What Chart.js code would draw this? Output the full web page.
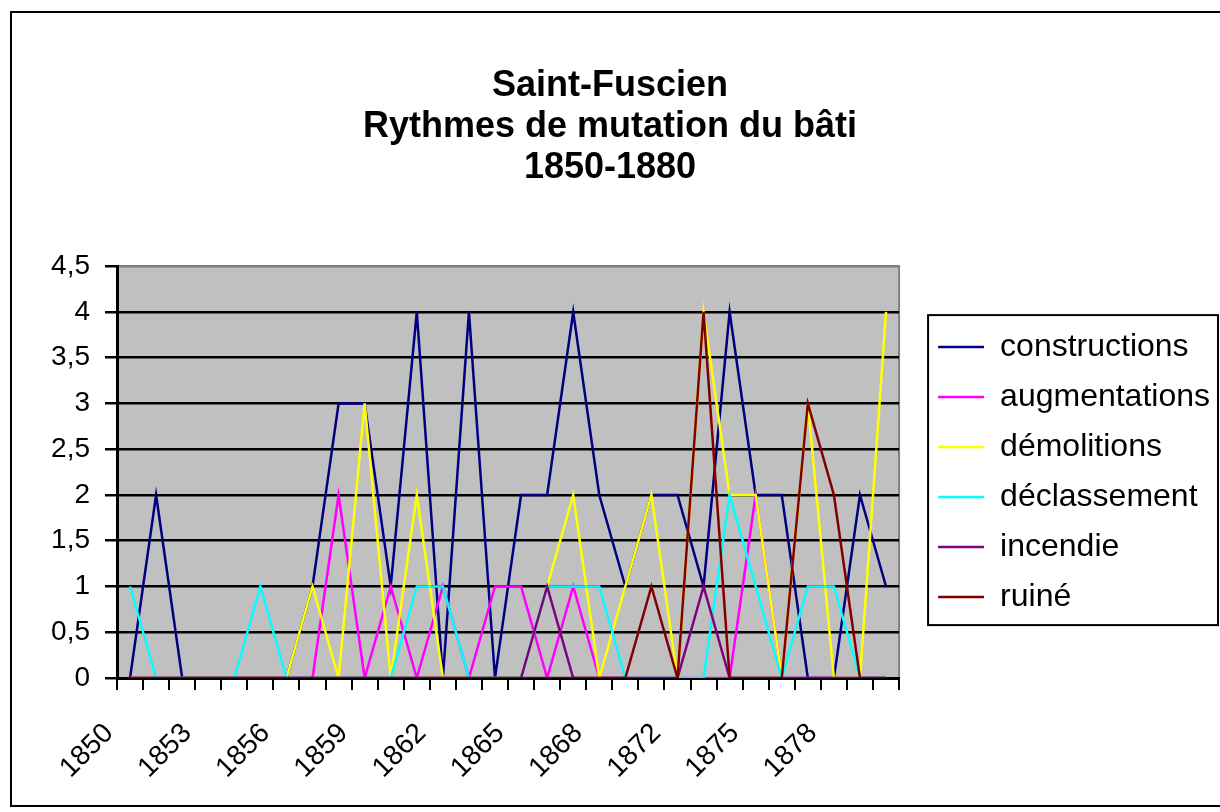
<!DOCTYPE html>
<html>
<head>
<meta charset="utf-8">
<script src="https://cdn.jsdelivr.net/npm/chart.js@4.4.1/dist/chart.umd.min.js"></script>
<style>
  body { margin: 0; background: #fff; }
  #wrap { width: 1220px; height: 812px; position: relative; }
</style>
</head>
<body>
<div id="wrap"><canvas id="chart_line"></canvas></div>
<script>
// 1870 is missing from the original table
let years = [1850, 1851, 1852, 1853, 1854, 1855, 1856, 1857, 1858, 1859,
             1860, 1861, 1862, 1863, 1864, 1865, 1866, 1867, 1868, 1869,
             1871, 1872, 1873, 1874, 1875, 1876, 1877, 1878, 1879, 1880];
let tickYears = [1850, 1853, 1856, 1859, 1862, 1865, 1868, 1872, 1875, 1878];

let constructions = [0, 2, 0, 0, 0, 0, 0, 1, 3, 3, 1, 4, 0, 4, 0, 2, 2, 4, 2, 1, 2, 2, 1, 4, 2, 2, 0, 0, 2, 1];
let augmentations = [0, 0, 0, 0, 0, 0, 0, 0, 2, 0, 1, 0, 1, 0, 1, 1, 0, 1, 0, 0, 0, 0, 0, 0, 2, 0, 0, 0, 0, 0];
let demolitions   = [0, 0, 0, 0, 0, 0, 0, 1, 0, 3, 0, 2, 0, 0, 0, 0, 1, 2, 0, 1, 2, 0, 4, 2, 2, 0, 3, 0, 0, 4];
let declassement  = [1, 0, 0, 0, 0, 1, 0, 0, 0, 0, 0, 1, 1, 0, 0, 0, 1, 1, 1, 0, 0, 0, 0, 2, 1, 0, 1, 1, 0, 0];
let incendie      = [0, 0, 0, 0, 0, 0, 0, 0, 0, 0, 0, 0, 0, 0, 0, 0, 1, 0, 0, 0, 0, 0, 1, 0, 0, 0, 0, 0, 0, 0];
let ruine         = [0, 0, 0, 0, 0, 0, 0, 0, 0, 0, 0, 0, 0, 0, 0, 0, 0, 0, 0, 0, 1, 0, 4, 0, 0, 0, 3, 2, 0, 0];

let names = ['constructions', 'augmentations', 'démolitions', 'déclassement', 'incendie', 'ruiné'];
let colors = ['#000080', '#ff00ff', '#ffff00', '#00ffff', '#800080', '#800000'];
let series = [constructions, augmentations, demolitions, declassement, incendie, ruine];

Chart.defaults.font.family = "'Liberation Sans', Arial, sans-serif";
Chart.defaults.color = '#000';

// excel look: grey plot area, outer frame, box round the legend
let frame = {
    id: 'frame',
    beforeDraw(chart) {
        let ctx = chart.ctx, a = chart.chartArea;
        ctx.save();
        ctx.strokeStyle = '#000';
        ctx.lineWidth = 2;
        ctx.strokeRect(11, 12, 1240, 794);
        ctx.fillStyle = '#c0c0c0';
        ctx.fillRect(a.left, a.top, a.right - a.left, a.bottom - a.top);
        ctx.strokeStyle = '#808080';
        ctx.strokeRect(a.left, a.top, a.right - a.left, a.bottom - a.top);
        ctx.restore();
    },
    afterDraw(chart) {
        let ctx = chart.ctx, hb = chart.legend.legendHitBoxes;
        if (!hb || !hb.length) return;
        let first = hb[0], last = hb[hb.length - 1];
        let x = first.left - 10, y = first.top - 16;
        ctx.save();
        ctx.strokeStyle = '#000';
        ctx.lineWidth = 2;
        ctx.strokeRect(x, y, chart.width - 2 - x, last.top + last.height + 12 - y);
        ctx.restore();
    }
};

let ctx_line = document.getElementById('chart_line');

let chart_line = new Chart(ctx_line, {
    type: 'line',
    data: {
        labels: years,
        datasets: series.map((s, i) => ({
            label: names[i],
            data: s,
            borderColor: colors[i],
            backgroundColor: colors[i],
            borderWidth: 2.5,
            pointRadius: 0,
            tension: 0,
            fill: false,
            order: series.length - i
        }))
    },
    options: {
        responsive: true,
        maintainAspectRatio: false,
        animation: false,
        layout: { padding: 0 },
        plugins: {
            title: {
                display: true,
                text: ['Saint-Fuscien', 'Rythmes de mutation du bâti', '1850-1880'],
                font: { size: 36, weight: 'bold', lineHeight: 1.15 },
                padding: { top: 65, bottom: 77 }
            },
            legend: {
                position: 'right',
                fullSize: false,
                maxWidth: 400,
                labels: {
                    usePointStyle: true,
                    pointStyle: 'line',
                    pointStyleWidth: 46,
                    padding: 18,
                    font: { size: 32 },
                    sort: (a, b) => a.datasetIndex - b.datasetIndex
                }
            },
            tooltip: { enabled: false }
        },
        scales: {
            x: {
                offset: true,
                z: 1,
                grid: {
                    offset: true,
                    drawOnChartArea: false,
                    color: '#000',
                    lineWidth: 2,
                    tickLength: 12
                },
                border: { color: '#000', width: 3 },
                ticks: {
                    autoSkip: false,
                    minRotation: 45,
                    maxRotation: 45,
                    padding: 27,
                    labelOffset: -21,
                    font: { size: 28 },
                    callback: function (v, i) {
                        let y = years[i];
                        return tickYears.includes(y) ? String(y) : '';
                    }
                },
                afterFit(s) { s.height = 134; }
            },
            y: {
                min: 0,
                max: 4.5,
                grid: {
                    color: (c) => c.tick && c.tick.value === 4.5 ? '#808080' : '#000',
                    tickColor: '#000',
                    lineWidth: 2.5,
                    tickLength: 12
                },
                border: { color: '#000', width: 3 },
                ticks: {
                    stepSize: 0.5,
                    padding: 15,
                    font: { size: 28 },
                    callback: (v) => String(v).replace('.', ',')
                },
                afterFit(s) { s.width = 117; }
            },
            gap: {
                type: 'linear',
                position: 'right',
                display: true,
                grid: { display: false },
                ticks: { display: false },
                border: { display: false },
                afterFit(s) { s.width = 21; }
            }
        }
    },
    plugins: [frame]
});
</script>
</body>
</html>
